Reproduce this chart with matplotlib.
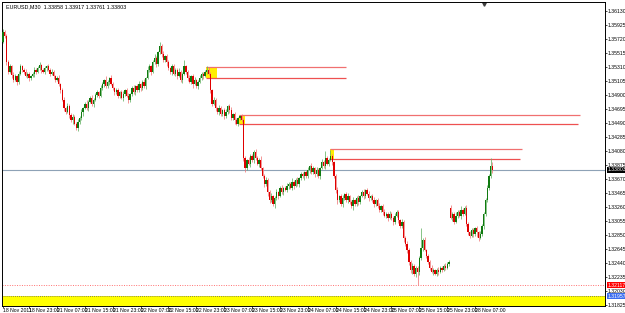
import numpy as np
import matplotlib.pyplot as plt

plt.rcParams['font.family'] = ['Liberation Sans Narrow', 'Liberation Sans', 'DejaVu Sans']

# EURUSD M30, 18 Nov 2011 15:30 -> 28 Nov 2011 12:00 (bar index on x)
first_open = 1.3568
monday_open = 1.3325  # gap open of 28 Nov
closes = [
    # 18 Nov
    1.3582, 1.3576, 1.3538, 1.3524, 1.3532, 1.3519, 1.3512, 1.3518, 1.3509, 1.3521, 1.3532, 1.3527,
    1.3524, 1.3518, 1.3521, 1.3515, 1.3518,
    # 21 Nov
    1.3521, 1.3527, 1.3524, 1.3529, 1.3534, 1.3527, 1.3524, 1.3529, 1.3532, 1.3527, 1.3521, 1.3524,
    1.3518, 1.3512, 1.3515, 1.3506, 1.3497, 1.3483, 1.3471, 1.3465, 1.3474, 1.3461, 1.3453, 1.3458,
    1.3448, 1.3442, 1.3450, 1.3456, 1.3465, 1.3471, 1.3477, 1.3471, 1.3480, 1.3486, 1.3477, 1.3483,
    1.3490, 1.3494, 1.3489, 1.3500, 1.3506, 1.3512, 1.3503, 1.3509, 1.3515, 1.3506, 1.3500, 1.3494,
    # 22 Nov
    1.3497, 1.3489, 1.3494, 1.3486, 1.3491, 1.3497, 1.3489, 1.3483, 1.3491, 1.3500, 1.3494, 1.3503,
    1.3497, 1.3506, 1.3500, 1.3509, 1.3503, 1.3515, 1.3527, 1.3532, 1.3524, 1.3538, 1.3544, 1.3535,
    1.3553, 1.3562, 1.3550, 1.3541, 1.3547, 1.3538, 1.3529, 1.3524, 1.3532, 1.3521, 1.3527, 1.3518,
    1.3524, 1.3512, 1.3521, 1.3532, 1.3524, 1.3515, 1.3509, 1.3518, 1.3506, 1.3512, 1.3503, 1.3509,
    # 23 Nov
    1.3515, 1.3521, 1.3518, 1.3524, 1.3527, 1.3521, 1.3497, 1.3477, 1.3483, 1.3471, 1.3465, 1.3471,
    1.3462, 1.3468, 1.3459, 1.3465, 1.3474, 1.3468, 1.3456, 1.3462, 1.3453, 1.3448, 1.3456, 1.3459,
    1.3453, 1.3398, 1.3383, 1.3395, 1.3389, 1.3401, 1.3395, 1.3407, 1.3398, 1.3389, 1.3395, 1.3383,
    1.3371, 1.3360, 1.3366, 1.3348, 1.3336, 1.3342, 1.3330, 1.3339, 1.3348, 1.3342, 1.3354, 1.3348,
    # 24 Nov
    1.3354, 1.3351, 1.3357, 1.3360, 1.3354, 1.3363, 1.3357, 1.3366, 1.3360, 1.3368, 1.3374, 1.3371,
    1.3377, 1.3371, 1.3380, 1.3386, 1.3377, 1.3383, 1.3374, 1.3380, 1.3371, 1.3383, 1.3392, 1.3386,
    1.3398, 1.3389, 1.3395, 1.3401, 1.3392, 1.3371, 1.3351, 1.3336, 1.3342, 1.3330, 1.3339, 1.3345,
    1.3336, 1.3342, 1.3333, 1.3327, 1.3336, 1.3330, 1.3339, 1.3333, 1.3342, 1.3348, 1.3342, 1.3351,
    # 25 Nov
    1.3345, 1.3339, 1.3342, 1.3336, 1.3330, 1.3336, 1.3327, 1.3322, 1.3327, 1.3319, 1.3313, 1.3316,
    1.3310, 1.3316, 1.3310, 1.3304, 1.3313, 1.3319, 1.3307, 1.3298, 1.3304, 1.3281, 1.3272, 1.3263,
    1.3246, 1.3234, 1.3240, 1.3228, 1.3237, 1.3231, 1.3251, 1.3266, 1.3278, 1.3263, 1.3254, 1.3246,
    1.3237, 1.3231, 1.3234, 1.3228, 1.3234, 1.3231, 1.3237, 1.3234, 1.3240, 1.3237, 1.3243, 1.3246,
    # 28 Nov
    1.3310, 1.3316, 1.3304, 1.3313, 1.3319, 1.3313, 1.3322, 1.3316, 1.3325, 1.3301, 1.3289, 1.3284,
    1.3292, 1.3287, 1.3295, 1.3289, 1.3281, 1.3287, 1.3298, 1.3316, 1.3336, 1.3354, 1.3371, 1.33858,
    1.33803,
]
up_pips = [
    4, 3, 3, 4, 3, 2, 5, 3, 2, 4, 3, 2, 3, 4, 2, 3,
    2, 3, 4, 2, 3, 5, 2, 3, 4, 2, 3, 2, 4, 3, 2, 3,
    4, 2, 3, 4, 2, 5, 3, 2, 4, 3, 2, 5, 3, 4, 2, 3,
    5, 2, 3, 4, 2, 3, 4, 2, 5, 3, 2, 6, 3, 2, 4, 3,
    2, 3, 4, 2, 3, 5, 2, 3, 4, 2, 3, 4, 2, 3, 5, 2,
    3, 4, 2, 5, 3, 2, 4, 6, 3, 2, 5, 3, 4, 2, 3, 4,
    2, 3, 4, 2, 3, 5, 2, 3, 9, 2, 3, 4, 2, 3, 4, 2,
    3, 4, 2, 3, 2, 6, 4, 3, 2, 4, 3, 2, 4, 3, 2, 3,
    4, 2, 3, 4, 2, 3, 4, 2, 2, 3, 4, 3, 2, 4, 3, 2,
    3, 4, 2, 3, 5, 2, 3, 4, 2, 3, 4, 2, 3, 5, 2, 3,
    4, 2, 3, 4, 2, 3, 5, 2, 3, 4, 2, 3, 4, 2, 3, 5,
    2, 4, 3, 2, 4, 3, 2, 4, 3, 10, 2, 3, 9, 3, 2, 3,
    4, 2, 3, 4, 2, 3, 5, 2, 3, 4, 2, 3, 4, 2, 3, 4,
    2, 3, 4, 2, 3, 4, 2, 3, 5, 2, 3, 4, 2, 3, 4, 2,
    3, 4, 2, 3, 2, 4, 3, 2, 4, 3, 2, 4, 3, 2, 3, 4,
    29, 3, 4, 2, 3, 2, 4, 3, 2, 3, 4, 2, 3, 2, 4, 3,
    2, 4, 3, 2, 5, 3, 2, 6, 3, 2, 4, 3, 2, 4, 3, 2,
    3, 2, 4, 3, 2, 3, 4, 3, 12, 5.9,
]
down_pips = [
    2, 3, 4, 3, 2, 4, 3, 2, 5, 3, 2, 4, 3, 2, 3, 4,
    3, 2, 4, 3, 2, 3, 5, 2, 3, 4, 2, 3, 2, 4, 3, 2,
    3, 4, 2, 5, 3, 2, 4, 3, 6, 2, 3, 4, 2, 3, 5, 2,
    3, 4, 2, 3, 5, 2, 3, 4, 2, 3, 4, 2, 3, 5, 2, 3,
    4, 2, 3, 4, 2, 5, 3, 2, 4, 3, 2, 3, 4, 2, 3, 4,
    2, 3, 4, 2, 3, 5, 2, 3, 4, 2, 3, 4, 2, 3, 5, 2,
    3, 4, 2, 3, 5, 2, 3, 4, 2, 3, 4, 2, 3, 5, 2, 3,
    4, 2, 3, 4, 2, 3, 2, 4, 3, 2, 5, 3, 4, 2, 3, 4,
    2, 3, 4, 2, 3, 5, 2, 3, 3, 2, 4, 6, 3, 2, 4, 3,
    5, 3, 2, 4, 3, 2, 4, 3, 6, 4, 3, 2, 5, 3, 4, 2,
    3, 4, 2, 3, 5, 2, 3, 4, 2, 3, 4, 2, 3, 5, 2, 3,
    4, 2, 3, 4, 2, 3, 4, 2, 3, 4, 2, 3, 2, 4, 3, 4,
    6, 3, 2, 4, 3, 2, 4, 3, 2, 5, 3, 2, 4, 3, 2, 4,
    3, 2, 4, 3, 2, 4, 3, 2, 4, 3, 5, 2, 3, 4, 2, 3,
    4, 3, 2, 5, 3, 2, 6, 3, 4, 5, 4, 6, 3, 5, 19, 4,
    3, 4, 2, 3, 4, 3, 2, 4, 2, 3, 4, 2, 3, 2, 3, 2,
    3, 2, 4, 3, 2, 3, 2, 4, 3, 2, 3, 4, 3, 2, 5, 3,
    7, 4, 2, 3, 4, 3, 2, 3, 2, 4.2,
]

# supply zones: bar where box starts, box end bar, line end bar, top / bottom price
zone_bar = [117, 136, 188]
zone_box_end = [123, 139, 190]
zone_top_end = [197, 331, 298]
zone_bot_end = [197, 330, 297]
zone_top = [1.35310, 1.34607, 1.34110]
zone_bot = [1.35149, 1.34475, 1.33963]

bid_price = 1.33803
alert_price = 1.32117
band_price = 1.31957

ytick_labels = ['1.36130', '1.35925', '1.35720', '1.35515', '1.35310', '1.35105', '1.34900',
                '1.34695', '1.34490', '1.34285', '1.34080', '1.33875', '1.33670', '1.33465',
                '1.33260', '1.33055', '1.32850', '1.32645', '1.32440', '1.32235', '1.32030',
                '1.31825']
xtick_bars = [0, 15, 31, 47, 63, 79, 95, 111, 127, 143, 159, 175, 191, 207, 223, 239, 255, 271]
xtick_labels = ['18 Nov 2011', '18 Nov 23:00', '21 Nov 07:00', '21 Nov 15:00', '21 Nov 23:00',
                '22 Nov 07:00', '22 Nov 15:00', '22 Nov 23:00', '23 Nov 07:00', '23 Nov 15:00',
                '23 Nov 23:00', '24 Nov 07:00', '24 Nov 15:00', '24 Nov 23:00', '25 Nov 07:00',
                '25 Nov 15:00', '25 Nov 23:00', '28 Nov 07:00']

c = np.array(closes)
o = np.r_[first_open, c[:-1]]
o[257] = monday_open
h = np.maximum(o, c) + np.array(up_pips) / 10000
l = np.minimum(o, c) - np.array(down_pips) / 10000
x = np.arange(len(c))
bull = c >= o

fig = plt.figure(figsize=(6.25, 3.13), dpi=100)
ax = fig.add_axes([2 / 625, 7 / 313, 603 / 625, 304 / 313])

# yellow band and level lines
ax.axhspan(1.3170, band_price, color='#ffff00', lw=0, zorder=0)
ax.axhline(band_price, color='#606060', lw=0.6, ls=(0, (1, 1.5)), zorder=1)
ax.axhline(alert_price, color='#ff7070', lw=0.7, ls=(0, (1, 1.5)), zorder=1)
ax.axhline(bid_price, color='#8ea2b6', lw=0.8, zorder=1)

# zones
for b, be, te, de, top, bot in zip(zone_bar, zone_box_end, zone_top_end, zone_bot_end, zone_top, zone_bot):
    ax.fill_between([b - 0.5, be], bot, top, color='#ffee00', lw=0, zorder=2)
    ax.hlines(top, b - 0.5, te, color='#f07070', lw=0.9, zorder=2)
    ax.hlines(bot, b - 0.5, de, color='#ee5050', lw=0.9, zorder=2)

# candles
ax.vlines(x[bull], l[bull], h[bull], color='#66b366', lw=0.55, zorder=3)
ax.vlines(x[~bull], l[~bull], h[~bull], color='#f07a7a', lw=0.55, zorder=3)
body = np.maximum(np.abs(c - o), 0.00006)
ax.bar(x[bull], body[bull], bottom=o[bull], width=0.75, color='#107a10', lw=0, zorder=4)
ax.bar(x[~bull], body[~bull], bottom=c[~bull], width=0.75, color='#e00000', lw=0, zorder=4)

ax.set_xlim(-0.57, 345.6)
ax.set_ylim(1.31811, 1.36262)

ytick_vals = [float(s) for s in ytick_labels]
ax.yaxis.tick_right()
ax.set_yticks(ytick_vals)
ax.set_yticklabels(ytick_labels)
ax.set_xticks(xtick_bars)
ax.set_xticklabels(xtick_labels, ha='left')
ax.tick_params(axis='y', length=1.5, width=0.5, pad=0.6, labelsize=3.7)
ax.tick_params(axis='x', length=1.5, width=0.5, pad=0.3, labelsize=3.7)
for s in ax.spines.values():
    s.set_linewidth(0.7)
    s.set_color('black')

# price tags on the right scale
for price, col in [(bid_price, 'black'), (alert_price, '#ff0000'), (band_price, '#3a6cf0')]:
    ax.text(1.004, price, f'{price:.5f}', transform=ax.get_yaxis_transform(), fontsize=3.7,
            color='white', va='center', ha='left',
            bbox=dict(boxstyle='square,pad=0.15', fc=col, ec='none'), zorder=6, clip_on=False)

fig.text(6 / 625, 1 - 4 / 313, f'EURUSD,M30  {o[-1]:.5f} {h[-1]:.5f} {l[-1]:.5f} {c[-1]:.5f}',
         fontsize=3.9, va='top', ha='left')
ax.plot([0.8], [0.995], marker='v', ms=2.5, color='#404040', transform=ax.transAxes, clip_on=False)

fig.savefig('out.png', dpi=100, facecolor='white')
